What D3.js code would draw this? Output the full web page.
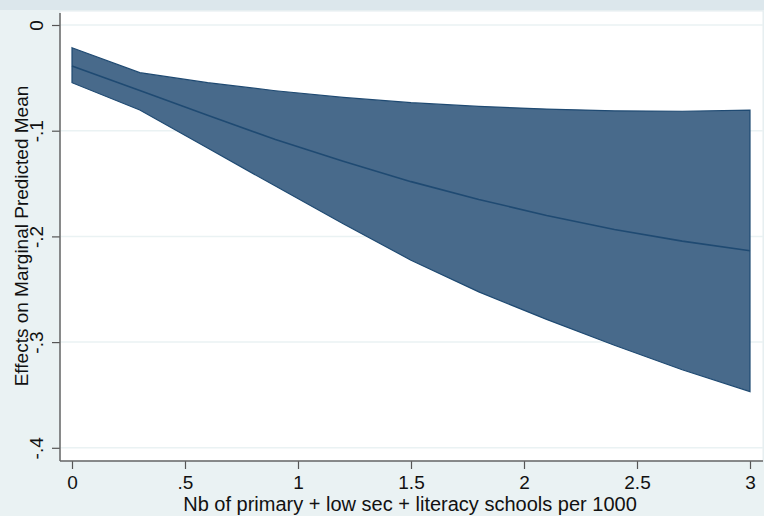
<!DOCTYPE html>
<html>
<head>
<meta charset="utf-8">
<script src="https://cdn.jsdelivr.net/npm/d3@7"></script>
<style>
html,body{margin:0;padding:0;background:#eaf2f3;}
svg{display:block;}
text{font-family:"Liberation Sans",Arial,Helvetica,sans-serif;fill:#111;}
</style>
</head>
<body>
<script>
const xValues = [0, 0.3, 0.6, 0.9, 1.2, 1.5, 1.8, 2.1, 2.4, 2.7, 3.0];
const upperCI = [-0.0215, -0.0451, -0.0546, -0.0622, -0.0685, -0.0735, -0.0770, -0.0795, -0.0812, -0.0816, -0.0806];
const estimate = [-0.0388, -0.0620, -0.0854, -0.1083, -0.1290, -0.1482, -0.1650, -0.1802, -0.1935, -0.2045, -0.2135];
const lowerCI = [-0.0546, -0.0804, -0.1164, -0.1524, -0.1880, -0.2225, -0.2525, -0.2785, -0.3030, -0.3262, -0.3468];
const xTicks = [0, 0.5, 1, 1.5, 2, 2.5, 3];
const xTickLabels = ["0", ".5", "1", "1.5", "2", "2.5", "3"];
const yTicks = [0, -0.1, -0.2, -0.3, -0.4];
const yTickLabels = ["0", "-.1", "-.2", "-.3", "-.4"];
const xTitle = "Nb of primary + low sec + literacy schools per 1000";
const yTitle = "Effects on Marginal Predicted Mean";

const W = 764, H = 516;
const svg = d3.select("body").append("svg").attr("width", W).attr("height", H);

// background
svg.append("rect").attr("x",0).attr("y",0).attr("width",W).attr("height",H).attr("fill","#eaf2f3");
svg.append("rect").attr("x",0).attr("y",0).attr("width",W).attr("height",10).attr("fill","#dce7ec");

const axisX = 60, axisY = 461, plotTop = 11, plotRight = 763;
// plot region
svg.append("rect").attr("x",axisX).attr("y",plotTop).attr("width",plotRight-axisX).attr("height",axisY-plotTop)
  .attr("fill","#ffffff").attr("stroke","#e4ecef").attr("stroke-width",1);

const x = d3.scaleLinear().domain([0,3]).range([72,750]);
const y = d3.scaleLinear().domain([0,-0.4]).range([25,447.8]);

// gridlines
svg.append("g").selectAll("line").data(yTicks).join("line")
  .attr("x1",axisX).attr("x2",plotRight)
  .attr("y1",d=>y(d)).attr("y2",d=>y(d))
  .attr("stroke","#eaf2f3").attr("stroke-width",1.5);

// band
const data = xValues.map((v,i)=>({x:v, lo:lowerCI[i], hi:upperCI[i], m:estimate[i]}));
const area = d3.area().x(d=>x(d.x)).y0(d=>y(d.lo)).y1(d=>y(d.hi));
svg.append("path").datum(data).attr("d", d=>area(d)+"Z")
  .attr("fill","#486a8b").attr("stroke","#1f4a72").attr("stroke-width",1.2).attr("stroke-linejoin","miter");
const line = d3.line().x(d=>x(d.x)).y(d=>y(d.m));
svg.append("path").datum(data).attr("d",line)
  .attr("fill","none").attr("stroke","#1f4a72").attr("stroke-width",1.6);

// y axis
const yAxis = d3.axisLeft(y).tickValues(yTicks).tickSize(8).tickPadding(0).tickFormat((d,i)=>yTickLabels[i]);
const gy = svg.append("g").attr("transform",`translate(${axisX},0)`).call(yAxis);
gy.select(".domain").remove();
gy.selectAll(".tick line").attr("stroke","#555").attr("stroke-width",1.2);
gy.selectAll(".tick text").remove();
gy.selectAll(".tick").append("text")
  .attr("transform","translate(-17,0) rotate(-90)")
  .attr("text-anchor","middle").attr("font-size",19).text((d,i)=>yTickLabels[i]);
svg.append("line").attr("x1",axisX).attr("x2",axisX).attr("y1",13).attr("y2",axisY)
  .attr("stroke","#666").attr("stroke-width",1.5);

// x axis
const xAxis = d3.axisBottom(x).tickValues(xTicks).tickSize(8).tickPadding(0).tickFormat((d,i)=>xTickLabels[i]);
const gx = svg.append("g").attr("transform",`translate(0,${axisY})`).call(xAxis);
gx.select(".domain").remove();
gx.selectAll(".tick line").attr("stroke","#555").attr("stroke-width",1.2);
gx.selectAll(".tick text").remove();
gx.selectAll(".tick").append("text").attr("y",28).attr("text-anchor","middle")
  .attr("font-size",19).text((d,i)=>xTickLabels[i]);
svg.append("line").attr("x1",axisX).attr("x2",plotRight).attr("y1",axisY).attr("y2",axisY)
  .attr("stroke","#666").attr("stroke-width",1.5);

// titles
svg.append("text").attr("x",410).attr("y",511).attr("text-anchor","middle").attr("font-size",20).text(xTitle);
svg.append("text").attr("transform","translate(28,236) rotate(-90)").attr("text-anchor","middle")
  .attr("font-size",19).text(yTitle);
</script>
</body>
</html>
